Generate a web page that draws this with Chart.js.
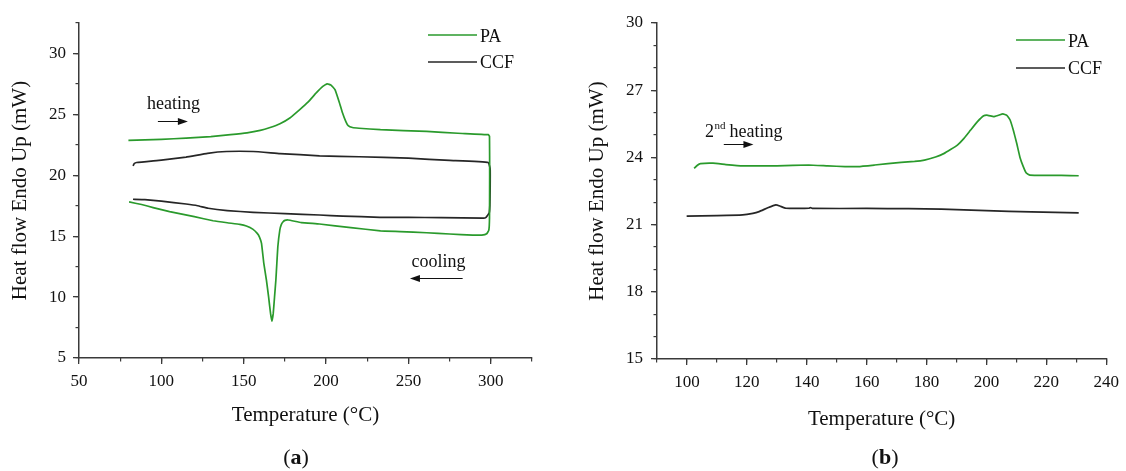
<!DOCTYPE html>
<html>
<head>
<meta charset="utf-8">
<script src="https://cdn.jsdelivr.net/npm/chart.js@4.4.1/dist/chart.umd.min.js"></script>
<style>
  html, body { margin: 0; padding: 0; background: #ffffff; }
  body { width: 1126px; height: 471px; position: relative; overflow: hidden; font-family: 'Liberation Serif', 'Times New Roman', serif; }
  #wa { position: absolute; left: 0; top: 0; width: 560px; height: 471px; }
  #wb { position: absolute; left: 560px; top: 0; width: 566px; height: 471px; }
  .cap { position: absolute; top: 444px; font-size: 22px; color: #111; line-height: 26px; transform: translateX(-50%); white-space: nowrap; }
  .cap b { font-weight: bold; }
</style>
</head>
<body>
<div id="wa"><canvas id="ca" width="560" height="471"></canvas></div>
<div id="wb"><canvas id="cb" width="566" height="471"></canvas></div>
<div class="cap" style="left:296px">(<b>a</b>)</div>
<div class="cap" style="left:885px">(<b>b</b>)</div>
<script>
// ---------- DATA ----------
// Panel (a): heating + cooling loops (path order: heating 80->300, drop, cooling 300->80)
const paA_T = [80, 90, 100, 115, 130, 142, 152, 160, 166, 172, 178, 184, 189, 194, 198, 200.7, 203, 205.4, 208, 210, 212, 213.4, 216, 220, 233, 261, 280, 298.5,
  299.2, 299.3, 299.2, 298.8, 297.5, 294.5, 289, 275, 261, 245, 233, 215, 196, 185, 177, 175, 173.9, 172.8, 171.9, 170.7, 170.1, 169.5, 168.7, 167.9, 167.1,
  166.3, 165.1, 163.8, 162.2, 160.8, 159.5, 158.2, 155.7, 151.6, 147.6, 140, 131.4, 120, 105, 95, 88, 80.4];
const paA_H = [22.86, 22.9, 22.95, 23.05, 23.18, 23.33, 23.48, 23.68, 23.92, 24.23, 24.7, 25.39, 26.0, 26.76, 27.3, 27.5, 27.4, 27.03, 26.0, 25.11, 24.4, 24.07, 23.92, 23.86, 23.74, 23.6, 23.45, 23.33,
  23.2, 20.0, 16.5, 15.5, 15.2, 15.09, 15.09, 15.18, 15.28, 15.38, 15.44, 15.7, 16.0, 16.12, 16.33, 16.3, 16.19, 15.95, 15.5, 14.13, 12.76, 11.38, 10.01, 8.64, 8.03,
  8.64, 10.01, 11.38, 12.76, 14.41, 14.95, 15.23, 15.56, 15.84, 15.97, 16.1, 16.27, 16.6, 17.01, 17.35, 17.6, 17.81];

const ccfA_T = [82.8, 83.5, 85, 100, 115, 128, 139.5, 155.7, 172, 196, 220, 250, 275, 298.5,
  299.6, 299.6, 299.4, 299.0, 297.1, 295.5, 270, 250, 232.7, 210, 196, 175, 155.7, 140, 128.4, 122, 115, 100, 90, 82.8];
const ccfA_H = [20.77, 20.95, 21.05, 21.25, 21.49, 21.8, 21.95, 21.95, 21.78, 21.6, 21.52, 21.4, 21.22, 21.05,
  20.5, 19.0, 17.5, 16.9, 16.55, 16.48, 16.52, 16.55, 16.55, 16.65, 16.74, 16.85, 16.96, 17.1, 17.29, 17.5, 17.64, 17.88, 18.0, 18.03];

// Panel (b): 2nd heating
const paB_T = [102.4, 103.5, 104.5, 108.7, 113, 118.6, 130, 140.7, 147, 152.8, 157.2, 162.7, 171.5, 176, 179.3, 183, 185.9, 188, 190.3, 192.5, 194.7, 197,
  199.1, 200.5, 202.4, 204, 205.5, 206.8, 207.9, 209, 210.1, 211.2, 212.3, 213.3, 214.5, 220, 225, 230.8];
const paB_H = [23.51, 23.65, 23.72, 23.74, 23.68, 23.62, 23.62, 23.66, 23.62, 23.59, 23.59, 23.66, 23.78, 23.82, 23.88, 24.02, 24.18, 24.35, 24.55, 24.85, 25.22, 25.6,
  25.86, 25.88, 25.82, 25.88, 25.94, 25.88, 25.67, 25.2, 24.63, 24.0, 23.59, 23.3, 23.21, 23.2, 23.2, 23.18];

const ccfB_T = [99.9, 110, 118.6, 122, 124.1, 127, 129.7, 131, 133, 137, 140.7, 141.2, 142, 160, 174, 185, 200, 215, 230.8];
const ccfB_H = [21.38, 21.4, 21.43, 21.5, 21.58, 21.75, 21.88, 21.83, 21.73, 21.72, 21.73, 21.76, 21.72, 21.72, 21.71, 21.69, 21.62, 21.57, 21.52];

// Tick values
const aXTicks = [50, 100, 150, 200, 250, 300];
const aXMinor = [50, 75, 100, 125, 150, 175, 200, 225, 250, 275, 300, 325];
const aYTicks = [5, 10, 15, 20, 25, 30];
const aYMinor = [5, 7.5, 10, 12.5, 15, 17.5, 20, 22.5, 25, 27.5, 30, 32.5];
const bXTicks = [100, 120, 140, 160, 180, 200, 220, 240];
const bXMinor = [90, 100, 110, 120, 130, 140, 150, 160, 170, 180, 190, 200, 210, 220, 230, 240];
const bYTicks = [15, 18, 21, 24, 27, 30];
const bYMinor = [15, 16, 17, 18, 19, 20, 21, 22, 23, 24, 25, 26, 27, 28, 29, 30];

const seriesNames = ['PA', 'CCF'];
const xTitle = 'Temperature (°C)';
const yTitle = 'Heat flow Endo Up (mW)';

// ---------- STYLE ----------
const FONT = "'Liberation Serif', 'Times New Roman', serif";
const GREEN = '#2a9a2c';
const BLACK = '#262626';
const AX = '#3a3a3a';

function pts(T, H) { return T.map((t, i) => ({ x: t, y: H[i] })); }

function arrow(ctx, x1, x2, y) {
  const d = Math.sign(x2 - x1);
  ctx.beginPath(); ctx.moveTo(x1, y); ctx.lineTo(x2 - d * 4, y); ctx.stroke();
  ctx.beginPath(); ctx.moveTo(x2, y); ctx.lineTo(x2 - d * 10, y - 3.5); ctx.lineTo(x2 - d * 10, y + 3.5); ctx.closePath(); ctx.fill();
}

const decor = {
  id: 'decor',
  afterDatasetsDraw(chart, args, opts) {
    const ctx = chart.ctx;
    const xs = chart.scales.x, ys = chart.scales.y;
    ctx.save();
    // legend
    (opts.legend || []).forEach((L, i) => {
      const ds = chart.data.datasets[i];
      ctx.strokeStyle = ds.borderColor; ctx.lineWidth = 1.6;
      ctx.beginPath(); ctx.moveTo(L.x1, L.y); ctx.lineTo(L.x2, L.y); ctx.stroke();
      ctx.fillStyle = '#111'; ctx.font = '18px ' + FONT; ctx.textBaseline = 'middle'; ctx.textAlign = 'left';
      ctx.fillText(ds.label, L.x2 + 3, L.ty);
    });
    // annotations
    ctx.fillStyle = '#111'; ctx.strokeStyle = '#111'; ctx.lineWidth = 1;
    (opts.notes || []).forEach(n => {
      ctx.textBaseline = 'alphabetic'; ctx.textAlign = 'left';
      let x = xs.getPixelForValue(n.tx), y = ys.getPixelForValue(n.ty);
      if (n.sup) {
        ctx.font = '18px ' + FONT; ctx.fillText(n.pre, x, y);
        x += ctx.measureText(n.pre).width + 0.5;
        ctx.font = '11px ' + FONT; ctx.fillText(n.sup, x, y - 8);
        x += ctx.measureText(n.sup).width + 4;
      }
      ctx.font = '18px ' + FONT; ctx.fillText(n.text, x, y);
      arrow(ctx, xs.getPixelForValue(n.a1), xs.getPixelForValue(n.a2), Math.round(ys.getPixelForValue(n.ay)) + 0.5);
    });
    ctx.restore();
  }
};

function scalesFor(o) {
  const tickFont = { family: FONT, size: 17 };
  const titleFont = { family: FONT, size: 21 };
  return {
    xm: { type: 'linear', position: 'bottom', weight: 0, min: o.xmin, max: o.xmax,
      afterBuildTicks: s => { s.ticks = o.xMinor.map(v => ({ value: v })); },
      afterFit: s => { s.height = 0; },
      ticks: { display: false }, border: { display: false },
      grid: { drawOnChartArea: false, drawTicks: true, tickLength: 3.5, color: AX, lineWidth: 1.2 } },
    ym: { type: 'linear', position: 'left', weight: 0, min: o.ymin, max: o.ymax,
      afterBuildTicks: s => { s.ticks = o.yMinor.map(v => ({ value: v })); },
      afterFit: s => { s.width = 0; },
      ticks: { display: false }, border: { display: false },
      grid: { drawOnChartArea: false, drawTicks: true, tickLength: 3.5, color: AX, lineWidth: 1.2 } },
    x: { type: 'linear', position: 'bottom', weight: 1, min: o.xmin, max: o.xmax,
      afterBuildTicks: s => { s.ticks = o.xTicks.map(v => ({ value: v })); },
      afterFit: s => { s.height = o.xh; },
      ticks: { font: tickFont, color: '#111', padding: 7, autoSkip: false, maxRotation: 0 },
      border: { display: true, color: AX, width: 1.5 },
      grid: { drawOnChartArea: false, drawTicks: true, tickLength: 6, color: AX, lineWidth: 1.3 },
      title: { display: true, text: xTitle, font: titleFont, color: '#111', padding: { top: 0, bottom: o.xtp } } },
    y: { type: 'linear', position: 'left', weight: 1, min: o.ymin, max: o.ymax,
      afterBuildTicks: s => { s.ticks = o.yTicks.map(v => ({ value: v })); },
      afterFit: s => { s.width = o.yw; },
      ticks: { font: tickFont, color: '#111', padding: o.ypad, autoSkip: false },
      border: { display: true, color: AX, width: 1.5 },
      grid: { drawOnChartArea: false, drawTicks: true, tickLength: 6, color: AX, lineWidth: 1.3 },
      title: { display: true, text: yTitle, font: titleFont, color: '#111', padding: { top: o.ytp, bottom: 0 } } }
  };
}

function dsets(a, b) {
  return [
    { label: seriesNames[0], data: a, borderColor: GREEN, borderWidth: 1.7, showLine: true, pointRadius: 0, tension: 0.1, xAxisID: 'x', yAxisID: 'y' },
    { label: seriesNames[1], data: b, borderColor: BLACK, borderWidth: 1.7, showLine: true, pointRadius: 0, tension: 0.1, xAxisID: 'x', yAxisID: 'y' }
  ];
}

const common = { responsive: false, animation: false, devicePixelRatio: 1,
  plugins: { legend: { display: false }, tooltip: { enabled: false } } };

new Chart(document.getElementById('ca'), {
  type: 'scatter',
  data: { datasets: dsets(pts(paA_T, paA_H), pts(ccfA_T, ccfA_H)) },
  options: Object.assign({}, common, {
    layout: { padding: { left: 0, top: 23, right: 28, bottom: 0 } },
    scales: scalesFor({ xmin: 50, xmax: 325, ymin: 5, ymax: 32.5, xTicks: aXTicks, xMinor: aXMinor, yTicks: aYTicks, yMinor: aYMinor,
      xh: 113, yw: 79, xtp: 43, ytp: 8, ypad: 7 }),
    plugins: Object.assign({}, common.plugins, {
      decor: {
        legend: [{ x1: 428, x2: 477, y: 35, ty: 37 }, { x1: 428, x2: 477, y: 62, ty: 63 }],
        notes: [
          { text: 'heating', tx: 91.3, ty: 25.45, a1: 97.9, a2: 116.1, ay: 24.42 },
          { text: 'cooling', tx: 251.9, ty: 12.48, a1: 282.9, a2: 250.9, ay: 11.6 }
        ]
      }
    })
  }),
  plugins: [decor]
});

new Chart(document.getElementById('cb'), {
  type: 'scatter',
  data: { datasets: dsets(pts(paB_T, paB_H), pts(ccfB_T, ccfB_H)) },
  options: Object.assign({}, common, {
    layout: { padding: { left: 0, top: 23, right: 15.5, bottom: 0 } },
    scales: scalesFor({ xmin: 90, xmax: 240, ymin: 15, ymax: 30, xTicks: bXTicks, xMinor: bXMinor, yTicks: bYTicks, yMinor: bYMinor,
      xh: 112, yw: 97, xtp: 39, ytp: 25, ypad: 8 }),
    plugins: Object.assign({}, common.plugins, {
      decor: {
        legend: [{ x1: 456, x2: 505, y: 40, ty: 42 }, { x1: 456, x2: 505, y: 68, ty: 69 }],
        notes: [
          { pre: '2', sup: 'nd', text: 'heating', tx: 106, ty: 24.92, a1: 112.3, a2: 122.2, ay: 24.58 }
        ]
      }
    })
  }),
  plugins: [decor]
});
</script>
</body>
</html>
